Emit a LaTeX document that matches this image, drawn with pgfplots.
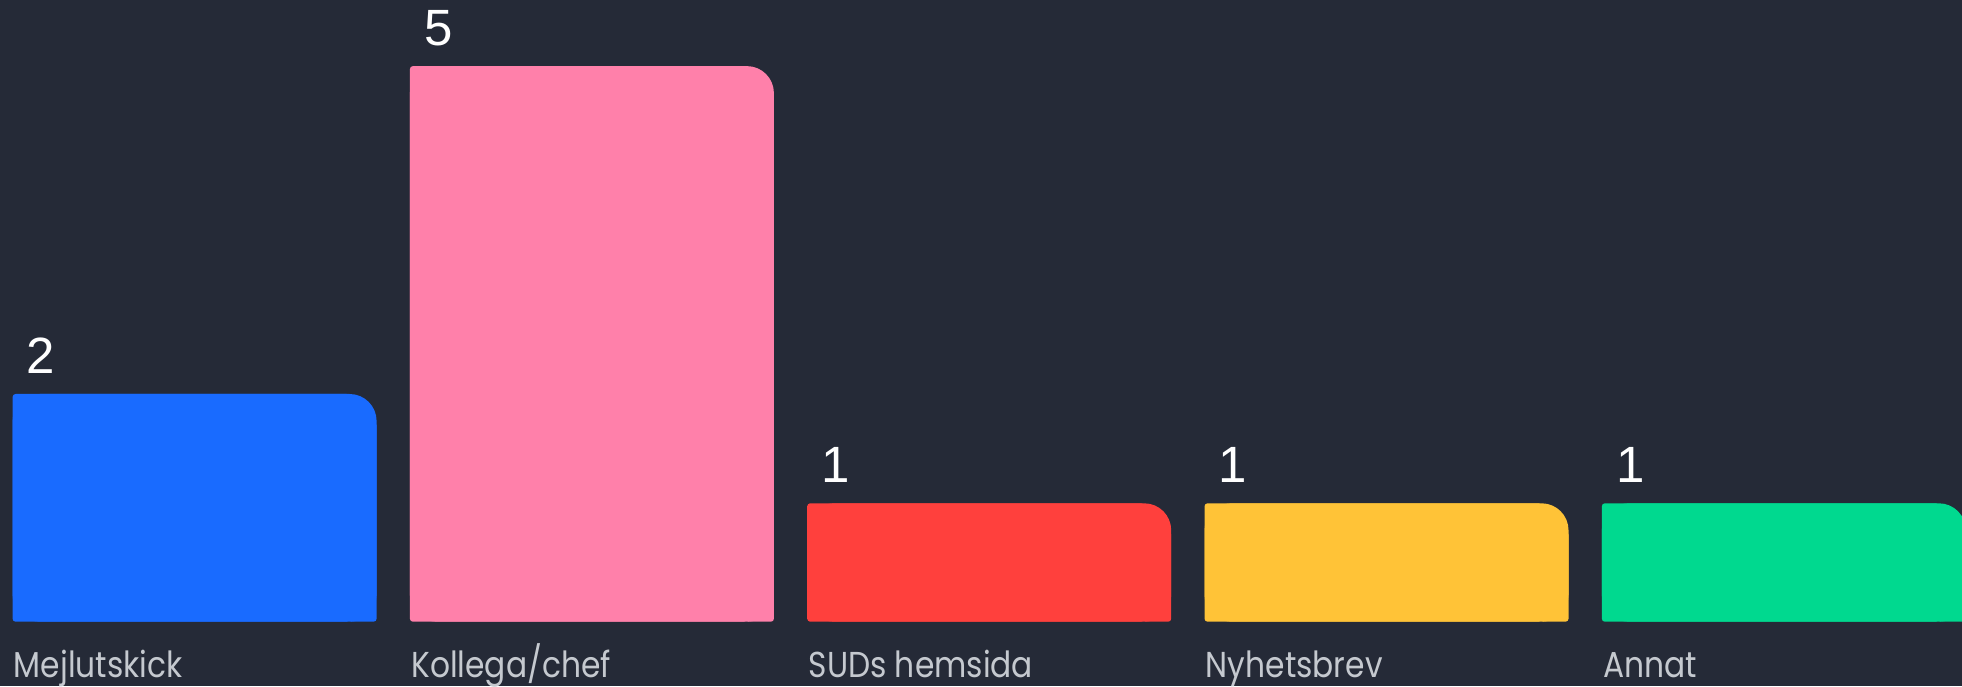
\documentclass[border=0pt]{standalone}
\usepackage{pgfplots}
\pgfplotsset{compat=1.18}
\usepackage{fontspec}
\setmainfont{Liberation Sans}
\newfontfamily\labelfont[FakeStretch=0.87]{Poppins}
\definecolor{bg}{HTML}{252A37}
\definecolor{c0}{HTML}{196BFF}
\definecolor{c1}{HTML}{FF80AA}
\definecolor{c2}{HTML}{FF403D}
\definecolor{c3}{HTML}{FFC337}
\definecolor{c4}{HTML}{00D98F}
\definecolor{lab}{HTML}{C5C9CF}
\newcommand\mbar[3]{%
 \addplot[fill=#3, draw=none, bar shift=0pt, bar width=182pt, rounded corners=13.5pt,
   point meta=explicit symbolic, nodes near coords,
   y filter/.expression={y+0.0833}] coordinates {(#1,#2) [#2]};
 \addplot[fill=#3, draw=none, bar shift=-6.75pt, bar width=168.5pt, rounded corners=1.5pt,
   y filter/.expression={y+0.0833}] coordinates {(#1,#2)};
 \addplot[fill=#3, draw=none, bar shift=84pt, bar width=14pt, rounded corners=1.5pt,
   y filter/.expression={y+0.0833-0.26}] coordinates {(#1,#2)};
}
\begin{document}
\begin{tikzpicture}
\fill[bg] (0,0) rectangle (981pt,343pt);
\path[use as bounding box] (0,0) rectangle (981pt,343pt);
\begin{axis}[
  at={(0pt,32.15pt)}, anchor=south west,
  scale only axis, width=981pt, height=310.85pt,
  xmin=-0.4898, xmax=4.4485, ymin=0, ymax=5.688,
  enlarge x limits=false, enlarge y limits=false,
  ybar,
  axis line style={draw=none}, tick style={draw=none},
  ytick=\empty,
  xtick={0,1,2,3,4},
  xticklabels={Mejlutskick, Kollega/chef, SUDs hemsida, Nyhetsbrev, Annat},
  xticklabel style={font=\labelfont\fontsize{18}{20}\selectfont, text=lab,
    anchor=base west, inner sep=0pt, xshift=-90.5pt, yshift=-23.8pt},
  every node near coord/.append style={font=\fontsize{25.5}{28}\selectfont, text=white,
    anchor=base west, inner sep=0pt, xshift=-84pt, yshift=10.25pt},
]
\mbar{0}{2}{c0}
\mbar{1}{5}{c1}
\mbar{2}{1}{c2}
\mbar{3}{1}{c3}
\mbar{4}{1}{c4}
\end{axis}
\end{tikzpicture}
\end{document}
